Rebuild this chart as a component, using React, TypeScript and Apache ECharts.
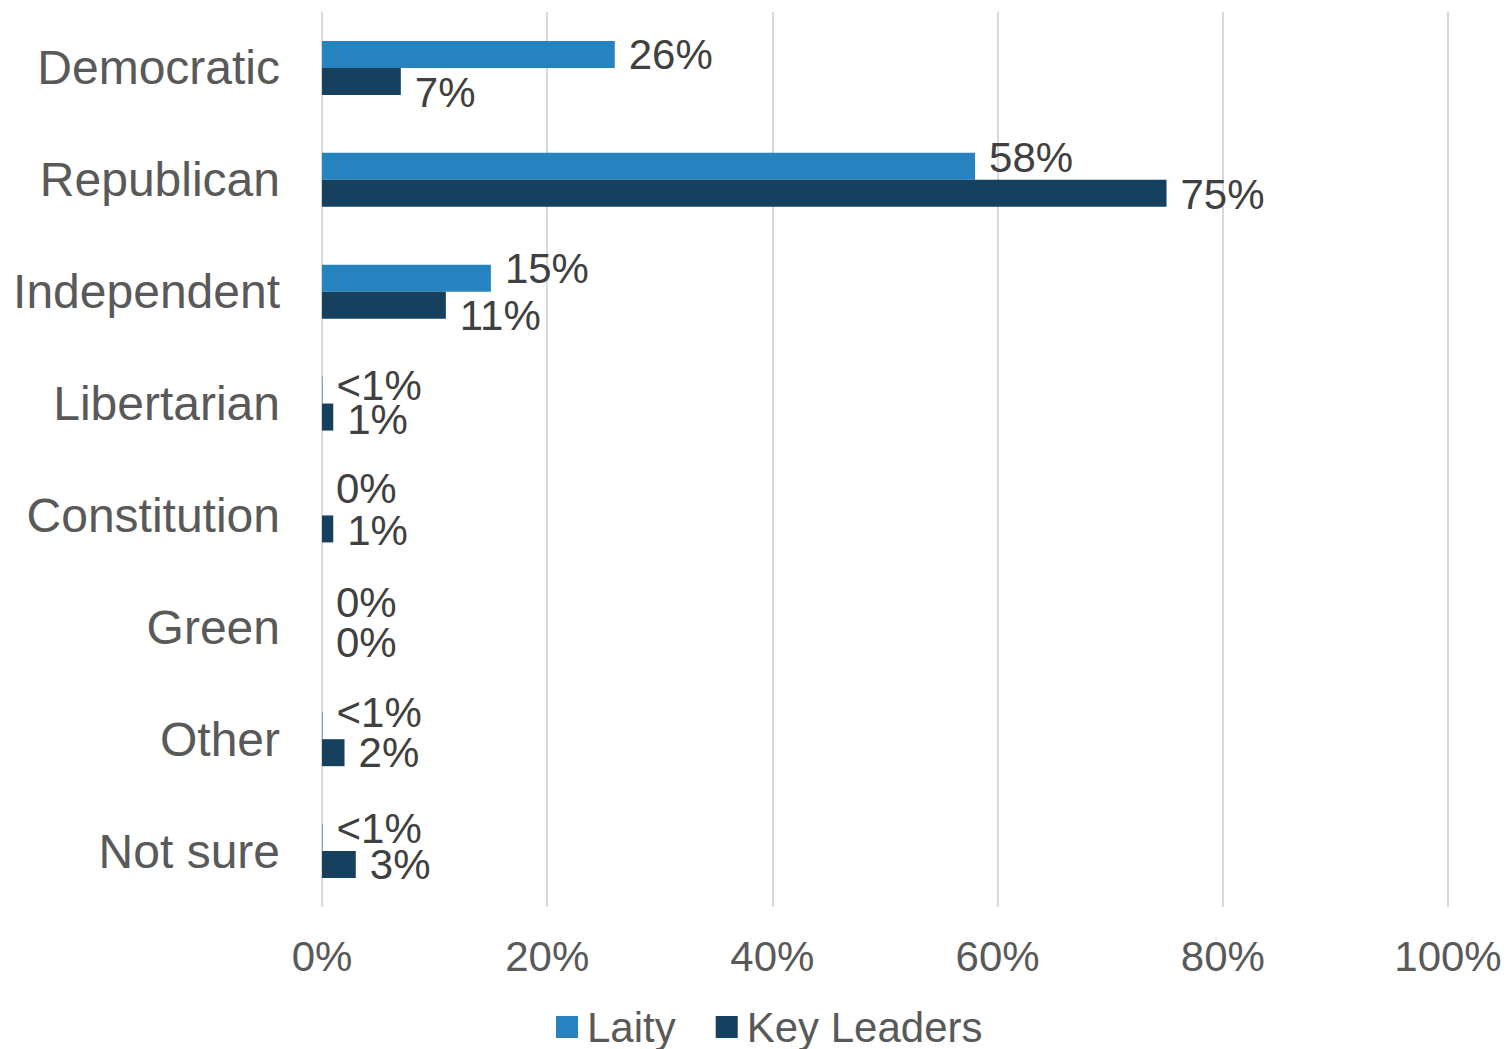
import React, { useEffect, useRef } from "react";
import * as echarts from "echarts";

const categories = [
  "Democratic",
  "Republican",
  "Independent",
  "Libertarian",
  "Constitution",
  "Green",
  "Other",
  "Not sure",
];
// 0.05 stands for "<1%"
const laity = [26, 58, 15, 0.05, 0, 0, 0.05, 0.05];
const keyLeaders = [7, 75, 11, 1, 1, 0, 2, 3];
const xTicks = [0, 20, 40, 60, 80, 100];

// label vertical nudges (style only)
const laityLabelDy = [0, -9, -10, -5, -13, -11, -13, -9];
const keyLabelDy = [11, 1, 10, 2, 2, 2, 0, 0];

const FONT = "'Liberation Sans', Arial, Helvetica, sans-serif";

const fmt = (v: number) => (v > 0 && v < 1 ? "<1%" : `${v}%`);

export default function App() {
  const ref = useRef<HTMLDivElement>(null);
  useEffect(() => {
    if (!ref.current) return;
    const chart = echarts.init(ref.current, undefined, { renderer: "svg" });
    const labelBase = {
      show: true,
      position: "right" as const,
      distance: 14,
      fontSize: 42,
      fontFamily: FONT,
      color: "#404040",
      formatter: (p: any) => fmt(p.value),
    };
    chart.setOption({
      animation: false,
      textStyle: { fontFamily: FONT },
      grid: { left: 322, right: 59, top: 12, bottom: 142, containLabel: false },
      legend: {
        data: ["Laity", "Key Leaders"],
        left: 556,
        top: 1006,
        icon: "rect",
        itemWidth: 22,
        itemHeight: 22,
        itemGap: 40,
        padding: 0,
        textStyle: {
          fontSize: 42,
          fontFamily: FONT,
          color: "#595959",
          padding: [0, 0, 0, 4],
          lineHeight: 42,
        },
      },
      xAxis: {
        type: "value",
        min: xTicks[0],
        max: xTicks[xTicks.length - 1],
        interval: 20,
        axisLine: { show: false },
        axisTick: { show: false },
        splitLine: { lineStyle: { color: "#D9D9D9", width: 2 } },
        axisLabel: {
          formatter: "{value}%",
          fontSize: 42,
          fontFamily: FONT,
          color: "#595959",
          margin: 28,
        },
      },
      yAxis: {
        type: "category",
        inverse: true,
        data: categories,
        axisLine: { show: false },
        axisTick: { show: false },
        axisLabel: {
          fontSize: 48,
          fontFamily: FONT,
          color: "#595959",
          margin: 42,
        },
      },
      series: [
        {
          name: "Laity",
          type: "bar",
          barWidth: 27,
          barGap: "0%",
          itemStyle: { color: "#2683BF" },
          label: labelBase,
          data: laity.map((v, i) => ({
            value: v,
            label: { offset: [0, laityLabelDy[i]] },
          })),
        },
        {
          name: "Key Leaders",
          type: "bar",
          barWidth: 27,
          barGap: "0%",
          itemStyle: { color: "#15415F" },
          label: labelBase,
          data: keyLeaders.map((v, i) => ({
            value: v,
            label: { offset: [0, keyLabelDy[i]] },
          })),
        },
      ],
    });
    return () => chart.dispose();
  }, []);
  return (
    <div
      ref={ref}
      style={{ position: "fixed", left: 0, top: 0, width: 1507, height: 1049, background: "#fff" }}
    />
  );
}
